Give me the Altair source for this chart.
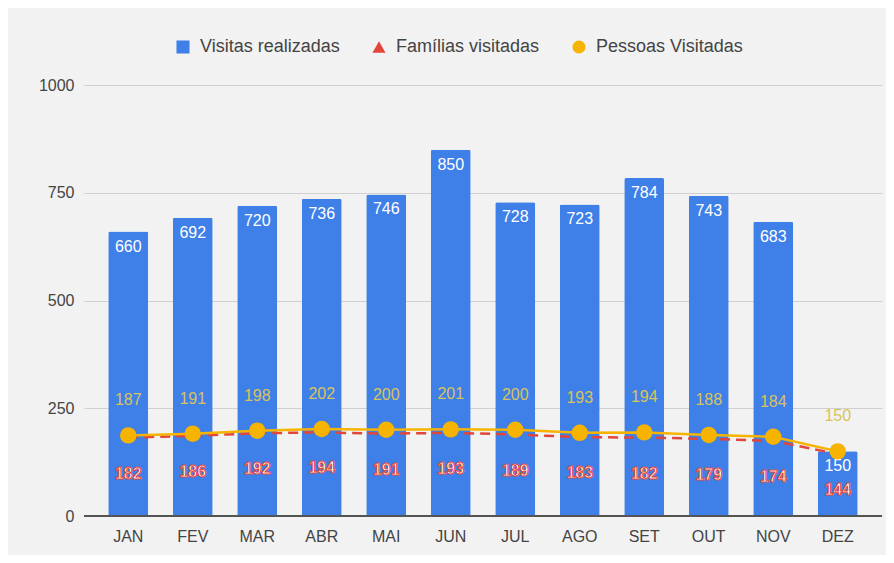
import altair as alt
import pandas as pd

months = ["JAN", "FEV", "MAR", "ABR", "MAI", "JUN", "JUL", "AGO", "SET", "OUT", "NOV", "DEZ"]
visitas = [660, 692, 720, 736, 746, 850, 728, 723, 784, 743, 683, 150]
familias = [182, 186, 192, 194, 191, 193, 189, 183, 182, 179, 174, 144]
pessoas = [187, 191, 198, 202, 200, 201, 200, 193, 194, 188, 184, 150]

series = ["Visitas realizadas", "Famílias visitadas", "Pessoas Visitadas"]
colors = ["#3f7fe8", "#e2453a", "#f6b400"]
shapes = ["square", "triangle-up", "circle"]

FONT = "Liberation Sans"

df = pd.DataFrame({"mes": months, "visitas": visitas, "familias": familias, "pessoas": pessoas})
df["serie"] = series[0]

x = alt.X("mes:N", sort=months, title=None,
          scale=alt.Scale(paddingInner=0.38, paddingOuter=0.376),
          axis=alt.Axis(labelAngle=0, labelFontSize=16, labelColor="#444444",
                        labelFont=FONT, domain=False, ticks=False, labelPadding=12))
yscale = alt.Scale(domain=[0, 1000])
yaxis = alt.Axis(values=[0, 250, 500, 750, 1000], format="d", labelFontSize=16,
                 labelColor="#444444", labelFont=FONT, domain=False, ticks=False,
                 gridColor="#d0d0d0", labelPadding=10, title=None)

base = alt.Chart(df)

bars = base.mark_bar(cornerRadiusTopLeft=2, cornerRadiusTopRight=2, color=colors[0]).encode(
    x=x,
    y=alt.Y("visitas:Q", scale=yscale, axis=yaxis),
)

bar_labels = base.mark_text(baseline="middle", dy=15, fontSize=16, font=FONT,
                            color="white").encode(
    x=x, y=alt.Y("visitas:Q", scale=yscale), text="visitas:Q")

baseline = base.mark_rule(color="#555555", strokeWidth=1.5).encode(
    y=alt.datum(0), x=alt.value(0), x2=alt.value(798))

fam_line = base.mark_line(strokeWidth=2.5, strokeDash=[10, 6], color=colors[1]).encode(
    x=x, y=alt.Y("familias:Q", scale=yscale))

pes_line = base.mark_line(strokeWidth=2.5, color=colors[2]).encode(
    x=x, y=alt.Y("pessoas:Q", scale=yscale))

pes_points = base.mark_circle(size=270, opacity=1, color=colors[2]).encode(
    x=x, y=alt.Y("pessoas:Q", scale=yscale))

pes_labels = base.mark_text(baseline="middle", dy=-35, fontSize=16, font=FONT,
                            color="#d8c45a").encode(
    x=x, y=alt.Y("pessoas:Q", scale=yscale), text="pessoas:Q")

fam_labels = base.mark_text(baseline="middle", dy=36, fontSize=16, font=FONT,
                            fill="white", stroke="#e2453a", strokeWidth=1,
                            fontWeight="bold").encode(
    x=x, y=alt.Y("familias:Q", scale=yscale), text="familias:Q")

legend_layer = base.transform_filter("datum.visitas < 0").mark_point(
    filled=True, opacity=1).encode(
    x=x, y=alt.Y("visitas:Q", scale=yscale),
    color=alt.Color("serie:N", scale=alt.Scale(domain=series, range=colors),
                    legend=alt.Legend(orient="none", legendX=90, legendY=-47,
                                      direction="horizontal", title=None,
                                      labelFontSize=18, labelFont=FONT,
                                      labelColor="#444444", symbolSize=170,
                                      columnPadding=30, symbolStrokeWidth=0,
                                      labelOffset=8, symbolOpacity=1)),
    shape=alt.Shape("serie:N", scale=alt.Scale(domain=series, range=shapes), legend=None),
)

chart = alt.layer(
    bars, baseline, bar_labels, fam_line, pes_line, pes_points, pes_labels, fam_labels, legend_layer
).properties(
    width=798, height=431,
    autosize=alt.AutoSizeParams(type="none"),
    padding={"left": 76, "top": 77, "right": 4, "bottom": 39},
    background="#f2f2f2",
).configure_view(stroke=None)

chart.save("out.html", embed_options={"renderer": "svg", "actions": False})
